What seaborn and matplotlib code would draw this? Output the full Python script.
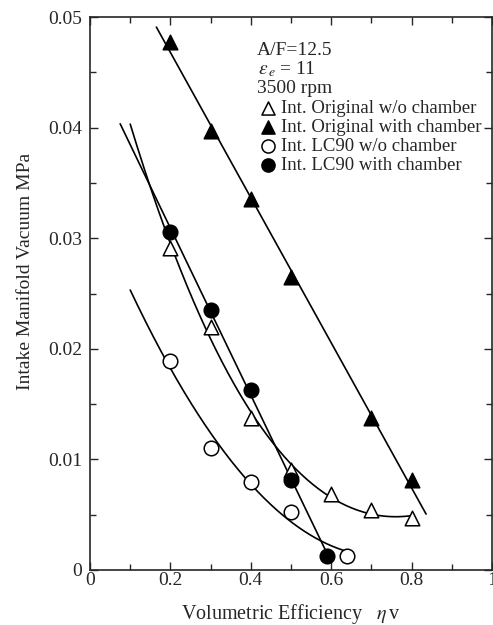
import numpy as np
import pandas as pd
import matplotlib
matplotlib.use("Agg")
import matplotlib.pyplot as plt
import seaborn as sns
from matplotlib.ticker import MultipleLocator, FuncFormatter

sns.set_style("ticks")
plt.rcParams['font.family'] = ['Liberation Serif', 'DejaVu Serif']
plt.rcParams['mathtext.fontset'] = 'stix'

# Data
orig_wo_x = [0.2, 0.3, 0.4, 0.5, 0.6, 0.7, 0.8]
orig_wo_y = [0.0291, 0.0220, 0.0137, 0.0090, 0.0069, 0.0054, 0.0047]
orig_w_x = [0.2, 0.3, 0.4, 0.5, 0.7, 0.8]
orig_w_y = [0.0477, 0.0397, 0.0335, 0.0265, 0.0137, 0.0081]
lc_wo_x = [0.2, 0.3, 0.4, 0.5, 0.64]
lc_wo_y = [0.0189, 0.0110, 0.0080, 0.0052, 0.0013]
lc_w_x = [0.2, 0.3, 0.4, 0.5, 0.59]
lc_w_y = [0.0306, 0.0235, 0.0163, 0.0081, 0.0013]

labels = ["Int. Original w/o chamber", "Int. Original with chamber",
          "Int. LC90 w/o chamber", "Int. LC90 with chamber"]

fig = plt.figure(figsize=(4.93, 6.25), dpi=100)
ax = fig.add_axes([0.1826, 0.088, 0.8154, 0.8848])

series = [
    (orig_wo_x, orig_wo_y, '^', 'white', 3, (0.10, 0.80)),
    (orig_w_x, orig_w_y, '^', 'black', 1, (0.165, 0.836)),
    (lc_wo_x, lc_wo_y, 'o', 'white', 2, (0.10, 0.645)),
    (lc_w_x, lc_w_y, 'o', 'black', 1, (0.075, 0.59)),
]

for (xs, ys, m, fc, order, rng), lab in zip(series, labels):
    coef = np.polyfit(xs, ys, order)
    xx = np.linspace(rng[0], rng[1], 200)
    sns.lineplot(x=xx, y=np.polyval(coef, xx), ax=ax, color='black', lw=1.2)
    df = pd.DataFrame({'x': xs, 'y': ys})
    sns.scatterplot(data=df, x='x', y='y', ax=ax, marker=m, s=110,
                    facecolor=fc, edgecolor='black', linewidth=1.1,
                    label=lab, zorder=5)

ax.set_xlim(0, 1)
ax.set_ylim(0, 0.05)
ax.xaxis.set_major_locator(MultipleLocator(0.2))
ax.xaxis.set_minor_locator(MultipleLocator(0.1))
ax.yaxis.set_major_locator(MultipleLocator(0.01))
ax.yaxis.set_minor_locator(MultipleLocator(0.005))

ax.xaxis.set_major_formatter(FuncFormatter(
    lambda v, p: "0" if abs(v) < 1e-9 else ("1" if abs(v - 1) < 1e-9 else f"{v:.1f}")))
ax.yaxis.set_major_formatter(FuncFormatter(
    lambda v, p: "0" if abs(v) < 1e-12 else f"{v:.2f}"))
ax.tick_params(which='both', direction='in', top=True, right=True, labelsize=14)
ax.tick_params(which='major', length=6, width=1)
ax.tick_params(which='minor', length=4, width=1)
ax.tick_params(axis='x', pad=1.5)
ax.tick_params(axis='y', pad=5.5)
for sp in ax.spines.values():
    sp.set_linewidth(1.2)

ax.set_xlabel("Volumetric Efficiency   $\\eta\\,$v", fontsize=14.5, va='top')
ax.xaxis.set_label_coords(0.5, -0.058)
ax.set_ylabel("Intake Manifold Vacuum MPa", fontsize=14)
ax.yaxis.set_label_coords(-0.14, 0.539)

ax.text(0.415, 0.931, "A/F=12.5", transform=ax.transAxes, fontsize=14, va='baseline')
ax.text(0.417, 0.897, "$\\varepsilon_{\\,e}\\;$= 11", transform=ax.transAxes, fontsize=14, va='baseline')
ax.text(0.415, 0.8626, "3500 rpm", transform=ax.transAxes, fontsize=14, va='baseline')

leg = ax.legend(loc='upper left', bbox_to_anchor=(0.419, 0.850), frameon=False,
                fontsize=13.5, handletextpad=0.2, labelspacing=0.1,
                borderaxespad=0, borderpad=0, handlelength=1.0, markerscale=0.9)

fig.savefig("out.png", dpi=100)
